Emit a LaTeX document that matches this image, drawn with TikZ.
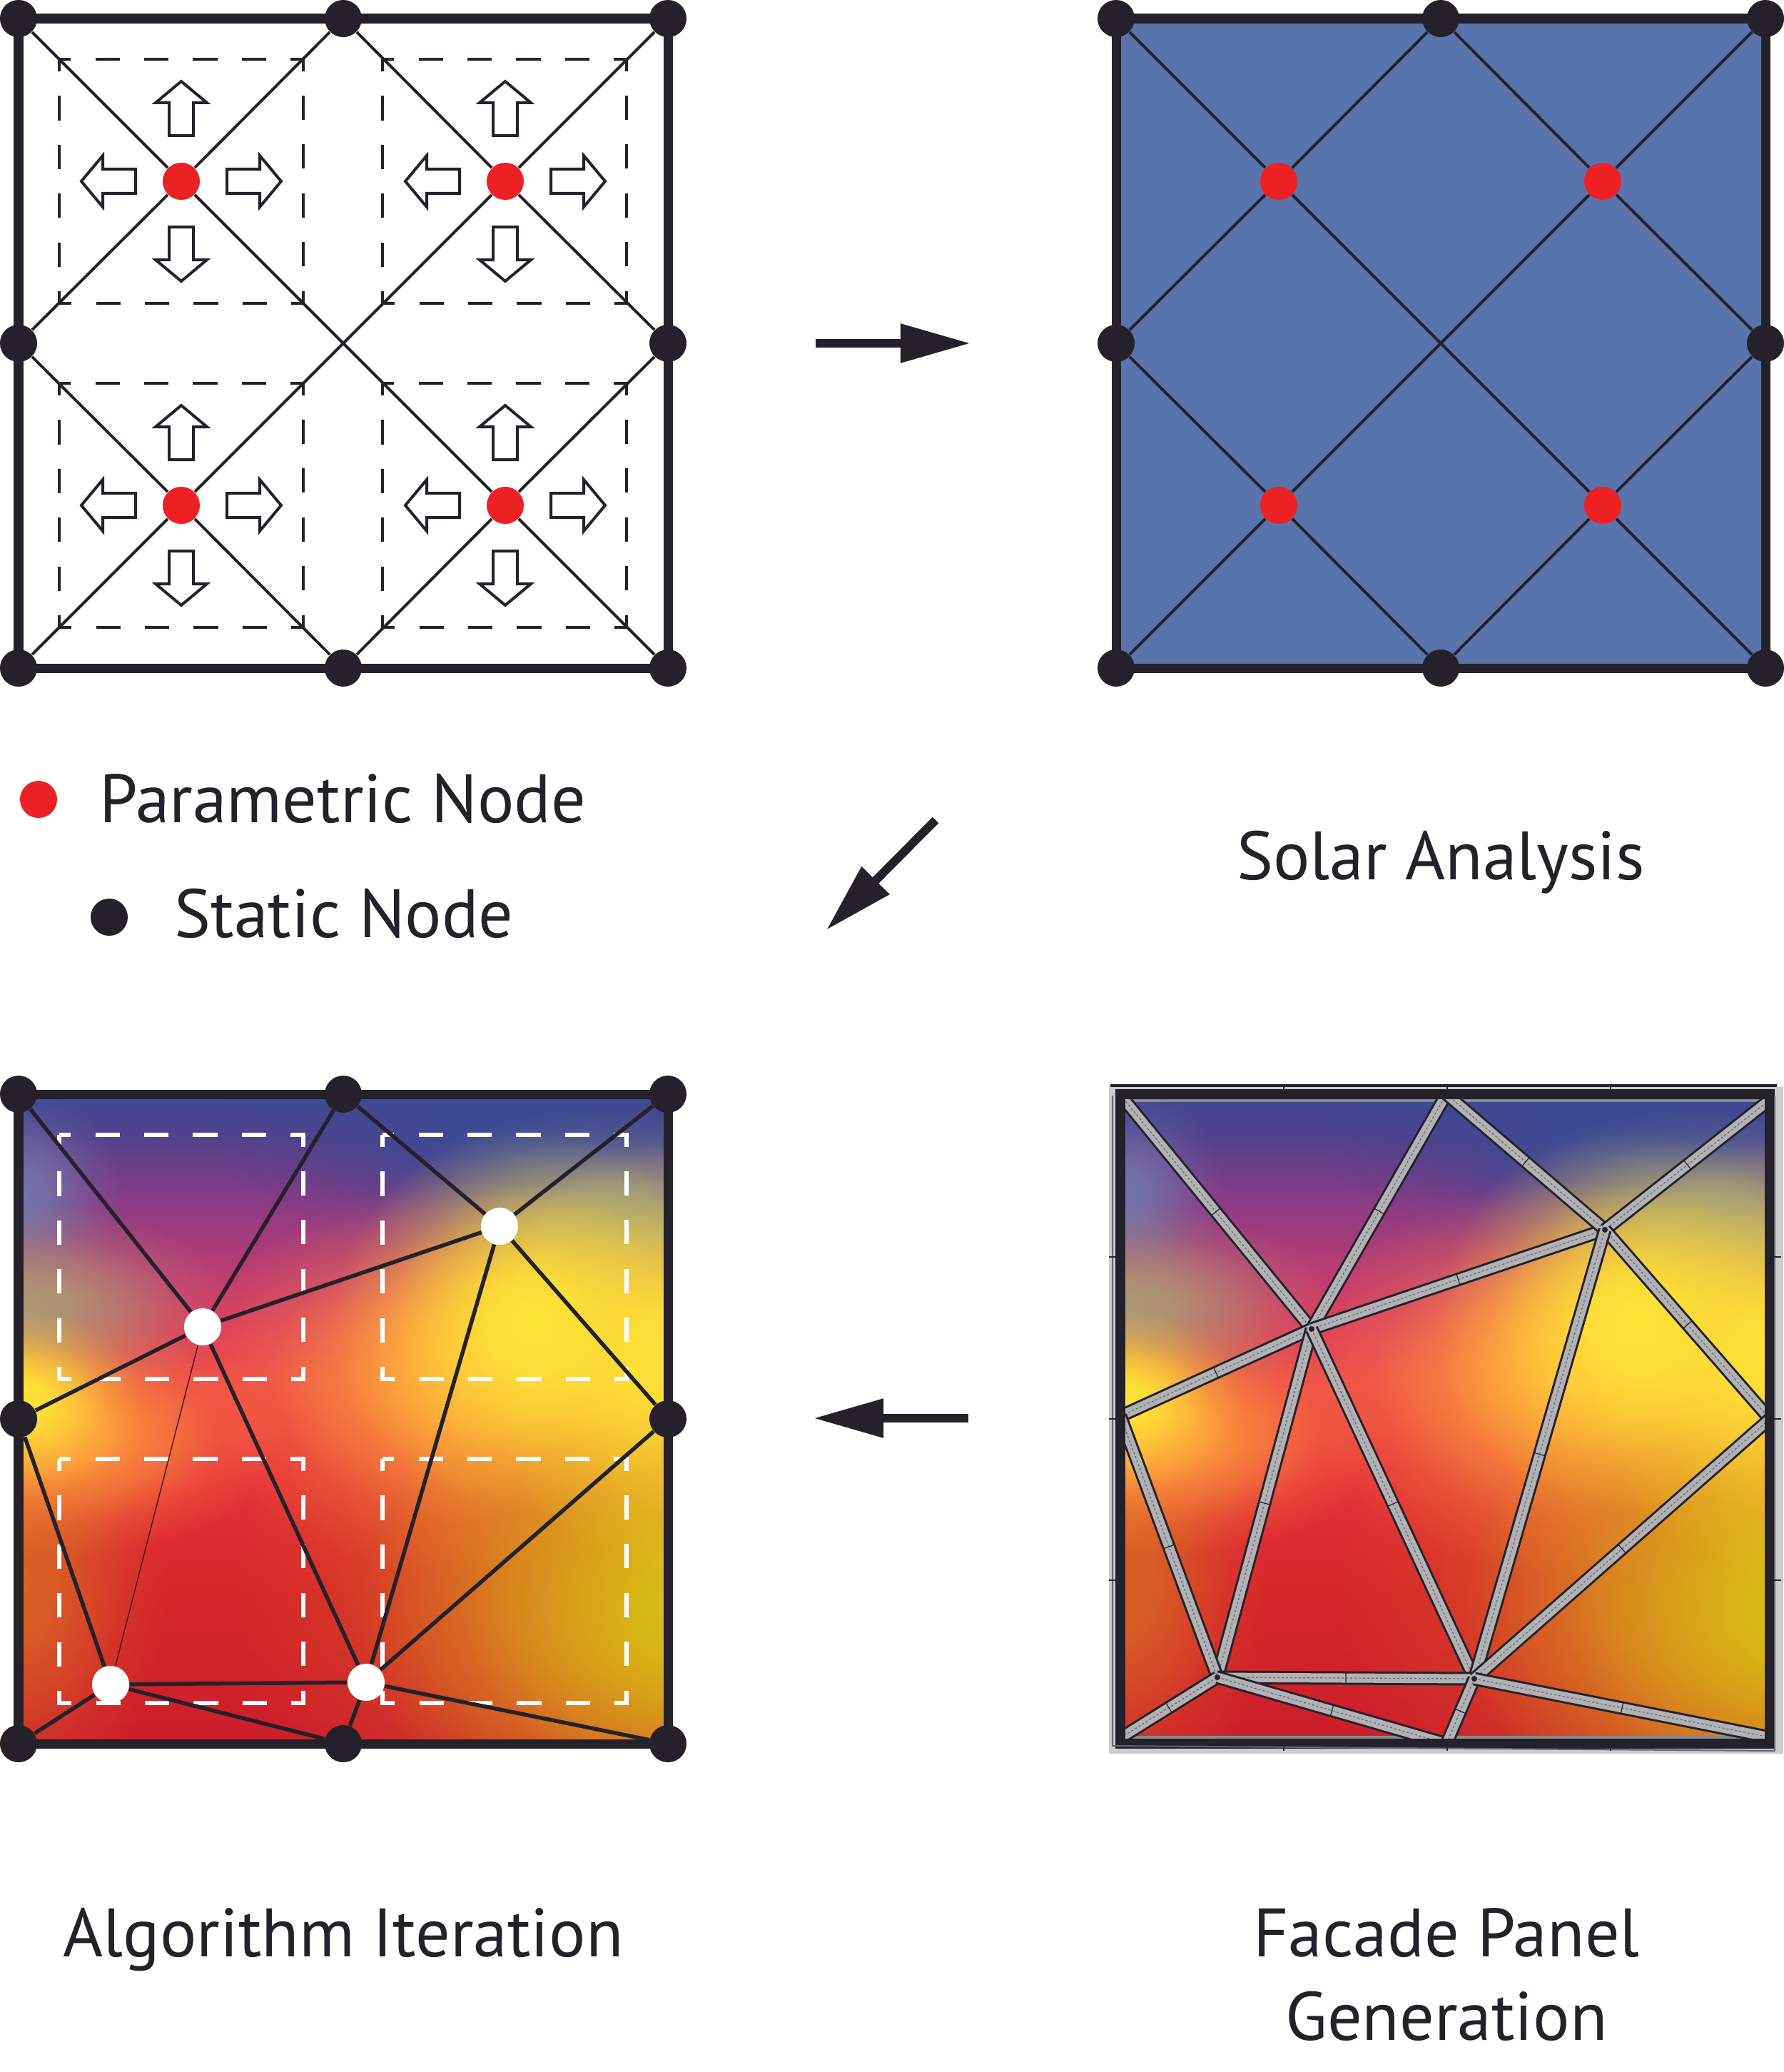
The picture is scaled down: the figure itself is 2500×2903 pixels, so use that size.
\documentclass[tikz,border=0pt]{standalone}
\usepackage{fontspec}
\setmainfont{PT Sans}
\usetikzlibrary{arrows.meta,fadings,decorations.markings}
\definecolor{ink}{rgb}{0.14,0.13,0.17}
\definecolor{nodered}{rgb}{0.93,0.13,0.14}
\definecolor{panelblue}{rgb}{0.35,0.455,0.68}
\definecolor{strutgray}{rgb}{0.70,0.70,0.71}
\definecolor{heat-orange}{rgb}{0.85,0.38,0.15}
\definecolor{heat-amber}{rgb}{1,0.62,0.24}
\definecolor{heat-yellow}{rgb}{1,0.90,0.21}
\definecolor{heat-gold}{rgb}{0.85,0.76,0.08}
\definecolor{heat-olive}{rgb}{0.68,0.60,0.46}
\definecolor{heat-slate}{rgb}{0.45,0.45,0.67}
\definecolor{heat-gray}{rgb}{0.55,0.55,0.55}
\definecolor{base-1}{rgb}{0.80,0.12,0.17}
\definecolor{base-2}{rgb}{0.84,0.145,0.16}
\definecolor{base-3}{rgb}{0.91,0.20,0.24}
\definecolor{base-4}{rgb}{0.93,0.27,0.29}
\definecolor{base-5}{rgb}{0.86,0.24,0.37}
\definecolor{base-6}{rgb}{0.76,0.235,0.44}
\definecolor{base-7}{rgb}{0.54,0.23,0.52}
\definecolor{base-8}{rgb}{0.33,0.255,0.55}
\definecolor{base-9}{rgb}{0.24,0.29,0.58}
\pgfdeclareverticalshading{heatbase}{100bp}{
color(0bp)=(base-1);
color(25bp)=(base-1);
color(36.5bp)=(base-2);
color(46.4bp)=(base-3);
color(53bp)=(base-4);
color(57.4bp)=(base-5);
color(60.7bp)=(base-6);
color(66.8bp)=(base-7);
color(71.7bp)=(base-8);
color(75bp)=(base-9);
color(100bp)=(base-9)}
\pgfdeclareradialshading{softshade}{\pgfpointorigin}{
color(0bp)=(white);
color(6bp)=(white!90!black);
color(12bp)=(white!58!black);
color(18bp)=(white!22!black);
color(25bp)=(black);
color(50bp)=(black)}
\pgfdeclarefading{softblob}{\pgfuseshading{softshade}}
\tikzset{
staticnode/.style={circle,fill=ink,inner sep=0pt,minimum size=0.52cm},
paramnode/.style={staticnode,fill=nodered},
movednode/.style={staticnode,fill=white},
junction/.style={circle,fill=ink,inner sep=0pt,minimum size=0.08cm},
frameline/.style={draw=ink,line width=0.13cm,shorten >=-0.08cm,shorten <=-0.08cm},
diagline/.style={draw=ink,line width=0.04cm},
meshline/.style={draw=ink,line width=0.055cm},
dashbox/.style={line width=0.04cm,dash pattern=on 0.342cm off 0.342cm,dash phase=0.171cm},
bigarrow/.style={draw=ink,line width=0.12cm,-{Triangle[length=0.98cm,width=0.52cm]}},
nudge/.pic={\draw[diagline,miter limit=10] (-17,-64)--(-17,-110)--(-36,-110)--(0,-140)--(36,-110)--(17,-110)--(17,-64)--cycle;},
strut/.style={draw=ink,double=strutgray,double distance=0.13cm,line width=0.03cm,
postaction={draw=ink!70,double=none,line width=0.012cm,dash pattern=on 0.03cm off 0.03cm},
postaction={decorate,decoration={markings,mark=at position 0.5 with {\draw[draw=ink,line width=0.012cm,double=none,solid] (0cm,-0.09cm)--(0cm,0.09cm);}}}},
panelfont/.style={font=\fontsize{27.3}{33}\selectfont,text=ink,inner sep=0pt,anchor=base}
}
\newcommand{\heatblob}[5]{\fill[#1,path fading=softblob] (#2,#3) ellipse ({#4} and {#5});}
\newcommand{\heatfill}[4]{
\begin{scope}[shift={(#1,#2)},xscale=#3,yscale=#4]
\clip (0,0) rectangle (910,910);
\shade[shading=heatbase] (0,0) rectangle (910,910);
\heatblob{base-9}{700}{60}{420}{170}
\heatblob{heat-slate}{0}{140}{150}{150}
\heatblob{heat-olive}{0}{300}{300}{150}
\heatblob{heat-orange}{0}{680}{210}{330}
\heatblob{heat-amber}{40}{480}{340}{170}
\heatblob{heat-yellow}{0}{430}{170}{130}
\heatblob{heat-gray}{830}{170}{330}{150}
\heatblob{heat-orange}{780}{680}{480}{430}
\heatblob{heat-amber}{640}{400}{400}{280}
\heatblob{heat-gold}{1000}{720}{520}{400}
\heatblob{heat-yellow}{720}{320}{280}{270}
\heatblob{heat-yellow}{930}{370}{280}{310}
\end{scope}}
\begin{document}
\begin{tikzpicture}[x=0.01cm,y=-0.01cm]
\useasboundingbox (0,0) rectangle (2500,2903);

%solar panel fill and heat maps go below everything else
\fill[panelblue] (1564,26) rectangle (2474,936);
\heatfill{26}{1533}{1}{1}
\fill[black!20] (1554,1523) rectangle (2499,2457);
\heatfill{1570}{1533}{1}{1}

%static nodes of the three drawn panels
\foreach \p/\ox/\oy in {a/0/0,b/1538/0,c/0/1507}{
\foreach \nm/\px/\py in {tl/26/26,tm/481/26,tr/936/26,ml/26/481,mr/936/481,bl/26/936,bm/481/936,br/936/936}{
\node[staticnode] (\p-\nm) at (\ox+\px,\oy+\py) {};
}}
\foreach \p/\ox in {a/0,b/1538}{
\coordinate (\p-c) at (\ox+481,481);
\node[paramnode] (\p-p1) at (\ox+254,254) {};
\node[paramnode] (\p-p2) at (\ox+708,254) {};
\node[paramnode] (\p-p3) at (\ox+254,708) {};
\node[paramnode] (\p-p4) at (\ox+708,708) {};
\foreach \u/\v in {tl/p1,tm/p1,ml/p1,c/p1,tm/p2,tr/p2,mr/p2,c/p2,ml/p3,bl/p3,bm/p3,c/p3,mr/p4,br/p4,bm/p4,c/p4}
\draw[diagline] (\p-\u) -- (\p-\v);
}
\node[movednode] (c-p1) at (284,1859) {};
\node[movednode] (c-p2) at (700,1718) {};
\node[movednode] (c-p3) at (155,2360) {};
\node[movednode] (c-p4) at (513,2357) {};

%outer frames
\foreach \p in {a,b,c}{
\foreach \u/\v in {tl/tm,tm/tr,tr/mr,mr/br,br/bm,bm/bl,bl/ml,ml/tl}
\draw[frameline] (\p-\u) -- (\p-\v);
}

%dashed move limits and block arrows
\foreach \bx/\by in {83/83,536/83,83/537,536/537}{
\draw[dashbox,draw=ink] (\bx,\by) rectangle ++(342,342);
}
\foreach \bx/\by in {83/1590,536/1590,83/2044,536/2044}{
\draw[dashbox,draw=white,line width=0.06cm] (\bx,\by) rectangle ++(342,342);
}
\foreach \q in {a-p1,a-p2,a-p3,a-p4}{
\foreach \ang in {0,90,180,270}
\pic[rotate=\ang] at (\q) {nudge};
}

%mesh after one iteration
\foreach \u/\v in {tl/p1,tm/p1,ml/p1,p1/p2,p1/p4,tm/p2,tr/p2,mr/p2,p2/p4,ml/p3,bl/p3,p3/p4,p3/bm,p4/bm,p4/mr,p4/br}
\draw[meshline] (c-\u) -- (c-\v);
\draw[draw=ink!80!red,line width=0.015cm] (c-p1) -- (c-p3);

%facade panel
\coordinate (d-tl) at (1570,1534);
\coordinate (d-tm) at (2027,1533);
\coordinate (d-tr) at (2480,1541);
\coordinate (d-ml) at (1570,1984);
\coordinate (d-mr) at (2480,1988);
\coordinate (d-bl) at (1570,2435);
\coordinate (d-bm) at (2027,2443);
\coordinate (d-br) at (2480,2434);
\coordinate (d-j1) at (1838,1862);
\coordinate (d-j2) at (2249,1723);
\coordinate (d-j3) at (1706,2350);
\coordinate (d-j4) at (2066,2352);
\fill[black!45] (1577,1540) rectangle (2473,1544);
\fill[black!45] (1577,2432) rectangle (2473,2437);
\begin{scope}
\clip (1570,1533) rectangle (2480,2443);
\foreach \u/\v in {tl/j1,tm/j1,ml/j1,j1/j2,j1/j3,j1/j4,tm/j2,tr/j2,mr/j2,j2/j4,ml/j3,bl/j3,j3/j4,j3/bm,j4/bm,j4/mr,j4/br}
\draw[strut] (d-\u) -- (d-\v);
\end{scope}
\draw[draw=ink,line width=0.135cm] (1570,1533) rectangle (2480,2443);
\draw[draw=ink,line width=0.04cm] (1556,1521) -- (2490,1521);
\draw[draw=ink!70,line width=0.02cm] (1559,1535) -- (1559,2446) -- (2487,2453);
\draw[draw=ink!70,line width=0.02cm] (2487,1535) -- (2487,2453);
\foreach \tx in {1799,2028,2257}{
\draw[draw=ink,line width=0.015cm] (\tx,1519) -- (\tx,1540);
\draw[draw=ink,line width=0.015cm] (\tx,2437) -- (\tx,2453);
}
\foreach \ty in {1761,1988,2214}{
\draw[draw=ink,line width=0.015cm] (1554,\ty) -- (1577,\ty);
\draw[draw=ink,line width=0.015cm] (2473,\ty) -- (2496,\ty);
}
\node[junction] (d-d1) at (d-j1) {};
\node[junction] (d-d2) at (d-j2) {};
\node[junction] (d-d3) at (d-j3) {};
\node[junction] (d-d4) at (d-j4) {};

%process arrows
\coordinate (arr1a) at (1143,481);
\coordinate (arr1b) at (1360,481);
\coordinate (arr2a) at (1311,1149);
\coordinate (arr2b) at (1158,1303);
\coordinate (arr3a) at (1357,1987);
\coordinate (arr3b) at (1140,1987);
\draw[bigarrow] (arr1a) -- (arr1b);
\draw[bigarrow] (arr2a) -- (arr2b);
\draw[bigarrow] (arr3a) -- (arr3b);

%legend and captions
\node[paramnode] (legend-red) at (54,1120) {};
\node[staticnode] (legend-dark) at (153,1285) {};
\node[panelfont,anchor=base west] (legend-redtext) at (139,1152) {Parametric Node};
\node[panelfont,anchor=base west] (legend-darktext) at (244,1313) {Static Node};
\node[panelfont] (solar) at (2019,1232) {Solar Analysis};
\node[panelfont] (algo) at (481,2741) {Algorithm Iteration};
\node[panelfont] (facade1) at (2027,2741) {Facade Panel};
\node[panelfont] (facade2) at (2027,2858) {Generation};
\end{tikzpicture}
\end{document}
